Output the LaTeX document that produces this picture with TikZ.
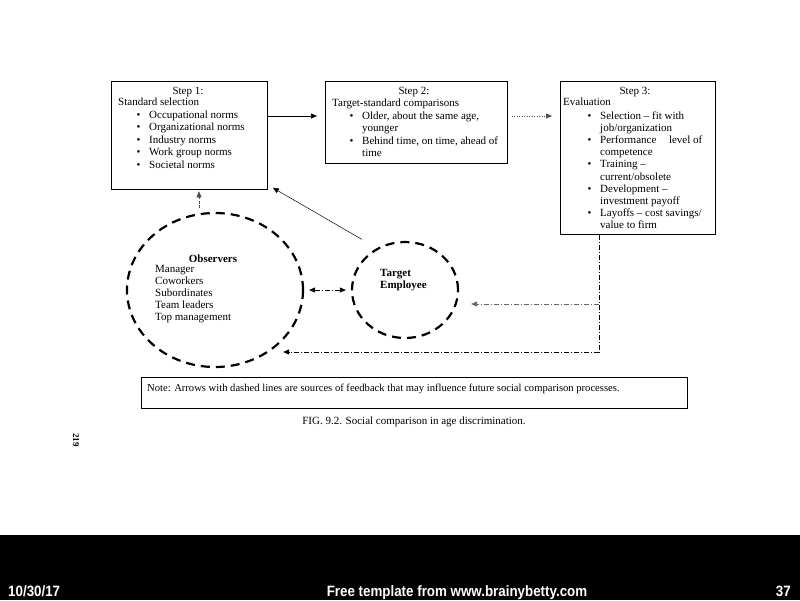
\documentclass[tikz,border=0pt]{standalone}
\usepackage{fontspec}
\setmainfont{Liberation Serif}
\newfontfamily\footfont{Liberation Sans}
\usetikzlibrary{arrows.meta,calc,shapes.geometric}
\newcommand\bitem{\hspace*{18.5pt}\makebox[12.5pt][l]{\textbullet}}
\newcommand\bcont{\hspace*{31pt}}
\begin{document}
\begin{tikzpicture}[x=1pt,y=-1pt,
  box/.style={draw,line width=0.8pt,inner sep=0pt,anchor=north west},
  title/.style={anchor=base,inner sep=0pt,font=\fontsize{11}{12}\selectfont},
  body/.style={anchor=north west,align=left,inner sep=0pt,font=\fontsize{11}{12.5}\selectfont},
  ring/.style={draw,ellipse,line width=2.2pt,dash pattern=on 9pt off 6pt,inner sep=0pt},
  tip/.style={-{Triangle[length=6pt,width=5pt]}},
  solidarrow/.style={tip,line width=0.6pt},
  dotarrow/.style={tip,line width=0.7pt,dash pattern=on 1pt off 1.5pt,black!70},
  fbline/.style={line width=0.7pt,dash pattern=on 5pt off 2pt on 1pt off 2pt},
  footer/.style={text=white,inner sep=0pt,anchor=base,font=\footfont\bfseries\fontsize{15}{16}\selectfont}
]
\useasboundingbox (0,0) rectangle (800,600);
\fill[white] (0,0) rectangle (800,600);

% boxes
\node[box,minimum width=156pt,minimum height=108pt] (s1) at (111,81) {};
\node[box,minimum width=182pt,minimum height=82pt] (s2) at (325,81) {};
\node[box,minimum width=155pt,minimum height=153pt] (s3) at (560,81) {};

% step 1 text
\node[title] (s1t) at (188,94) {Step 1:};
\node[body] (s1b) at (118,98) {Standard selection\\
\bitem Occupational norms\\
\bitem Organizational norms\\
\bitem Industry norms\\
\bitem Work group norms\\
\bitem Societal norms};

% step 2 text
\node[title] (s2t) at (414,94) {Step 2:};
\node[body] (s2b) at (332,99) {Target-standard comparisons\\
\hspace*{-1pt}\bitem Older, about the same age,\\
\hspace*{-1pt}\bcont younger\\
\hspace*{-1pt}\bitem Behind time, on time, ahead of\\
\hspace*{-1pt}\bcont time};

% step 3 text
\node[title] (s3t) at (635,94) {Step 3:};
\node[body,font=\fontsize{11}{12.2}\selectfont] (s3b) at (563,98) {Evaluation\\[1pt]
\hspace*{6pt}\bitem Selection -- fit with\\
\hspace*{6pt}\bcont job/organization\\
\hspace*{6pt}\bitem Performance\hspace{0.9em} level of\\
\hspace*{6pt}\bcont competence\\
\hspace*{6pt}\bitem Training --\\
\hspace*{6pt}\bcont current/obsolete\\
\hspace*{6pt}\bitem Development --\\
\hspace*{6pt}\bcont investment payoff\\
\hspace*{6pt}\bitem Layoffs -- cost savings/\\
\hspace*{6pt}\bcont value to firm};

% circles
\node[ring,minimum width=176pt,minimum height=154pt] (obs) at (215,290) {};
\node[ring,minimum width=106pt,minimum height=96pt] (te) at (405,290) {};

\node[title,font=\fontsize{11}{12}\selectfont\bfseries] (obst) at (213,262) {Observers};
\node[body,font=\fontsize{11}{12}\selectfont] (obsb) at (155,265.5) {Manager\\Coworkers\\Subordinates\\Team leaders\\Top management};
\node[body,font=\fontsize{11}{12}\selectfont\bfseries] (tet) at (380,269) {Target\\Employee};

% connectors
\draw[solidarrow,shorten >=8pt] ($(s1.north east)+(0,35)$) coordinate (a1) -- (a1 -| s2.west);
\draw[dotarrow,shorten <=4pt,shorten >=8pt] ($(s2.north east)+(0,35)$) coordinate (a2) -- (a2 -| s3.west);
\coordinate (up) at (199,208);
\draw[tip,line width=0.6pt,dash pattern=on 3pt off 1.5pt,black!70] (up) -- ($(up |- s1.south)+(0,1.5)$);
\draw[solidarrow,line width=0.5pt] ($(te.north west)+(-5,-16)$) -- ($(s1.south east)+(5,-2)$);
\draw[fbline,{Triangle[length=6pt,width=5pt]}-{Triangle[length=6pt,width=5pt]},shorten <=5pt,shorten >=5pt] (obs.east) -- (te.west);
\coordinate (fb) at (599,352);
\coordinate (fb2) at (599,304);
\draw[fbline] (s3.south -| fb) -- (fb);
\draw[fbline,tip,shorten >=-21pt] (fb) -- (fb -| obs.east);
\draw[fbline,tip,black!60,shorten >=12pt] (fb2) -- (fb2 -| te.east);

% note
\node[box,minimum width=546pt,minimum height=31pt] (note) at (141,377) {};
\node[anchor=base west,inner sep=0pt,font=\fontsize{10.6}{12}\selectfont] (notet) at (147,391) {Note: Arrows with dashed lines are sources of feedback that may influence future social comparison processes.};
\node[anchor=base,inner sep=0pt,font=\fontsize{11}{12}\selectfont] (cap) at (414,424) {FIG. 9.2. Social comparison in age discrimination.};
\node[anchor=base,inner sep=0pt,rotate=-90,font=\fontsize{9}{10}\selectfont\bfseries] (pg) at (73,440) {219};

% footer
\fill[black] (0,535) rectangle (800,600);
\node[footer,anchor=base west] (fd) at (8,596) {\scalebox{0.89}[1]{10/30/17}};
\node[footer] (ft) at (457,596) {\scalebox{0.89}[1]{Free template from www.brainybetty.com}};
\node[footer,anchor=base east] (fn) at (791,596) {\scalebox{0.89}[1]{37}};
\end{tikzpicture}
\end{document}
